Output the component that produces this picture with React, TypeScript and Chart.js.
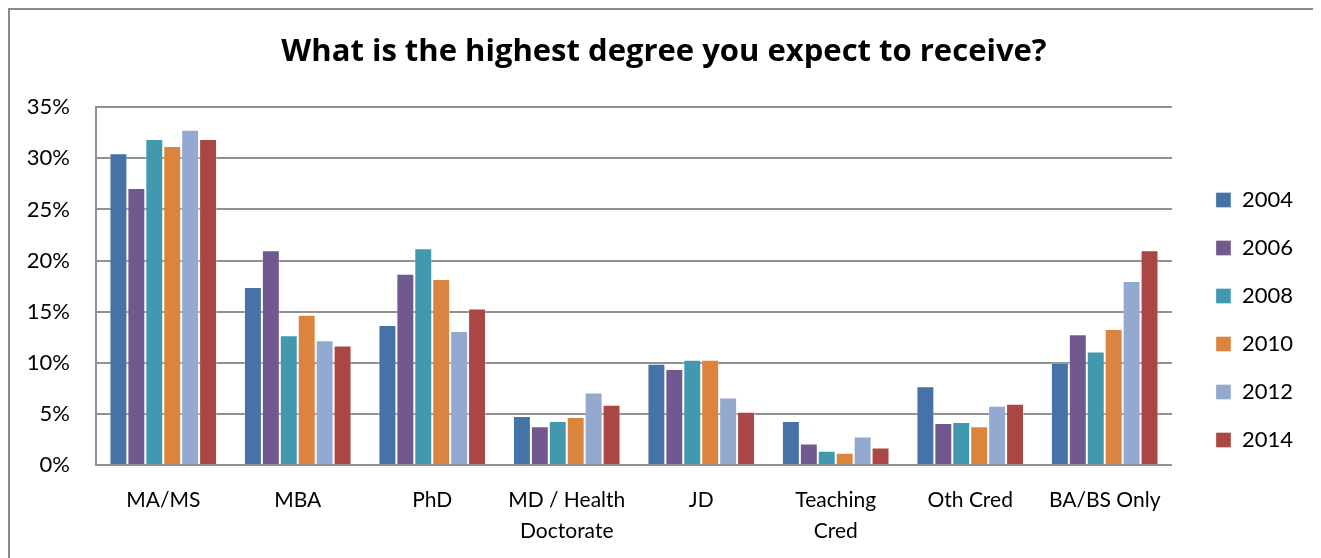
import { useEffect, useRef } from 'react';
import { Chart, registerables } from 'chart.js';

Chart.register(...registerables);

const categories: (string | string[])[] = [
  'MA/MS',
  'MBA',
  'PhD',
  ['MD / Health', 'Doctorate'],
  'JD',
  ['Teaching', 'Cred'],
  'Oth Cred',
  'BA/BS Only',
];

const years = ['2004', '2006', '2008', '2010', '2012', '2014'];

const y2004 = [30.5, 17.4, 13.7, 4.8, 9.9, 4.3, 7.7, 10.0];
const y2006 = [27.1, 21.0, 18.7, 3.8, 9.4, 2.1, 4.1, 12.8];
const y2008 = [31.9, 12.7, 21.2, 4.3, 10.3, 1.4, 4.2, 11.1];
const y2010 = [31.2, 14.7, 18.2, 4.7, 10.3, 1.2, 3.8, 13.3];
const y2012 = [32.8, 12.2, 13.1, 7.1, 6.6, 2.8, 5.8, 18.0];
const y2014 = [31.9, 11.7, 15.3, 5.9, 5.2, 1.7, 6.0, 21.0];

const seriesValues = [y2004, y2006, y2008, y2010, y2012, y2014];
const seriesColors = ['#4572A7', '#71588F', '#4198AF', '#DB843D', '#93A9CF', '#AA4643'];

const yMin = 0;
const yMax = 35;
const yStep = 5;

const title = 'What is the highest degree you expect to receive?';

export default function App() {
  const ref = useRef<HTMLCanvasElement | null>(null);

  useEffect(() => {
    document.documentElement.style.overflow = 'hidden';
    document.body.style.overflow = 'hidden';
    const canvas = ref.current;
    if (!canvas) return;
    Chart.defaults.font.family = 'Lato';
    const gridColor = '#919191';
    const chart = new Chart(canvas, {
      type: 'bar',
      data: {
        labels: categories,
        datasets: years.map((y, i) => ({
          label: y,
          data: seriesValues[i],
          backgroundColor: seriesColors[i],
          borderColor: 'rgba(255,255,255,0.35)',
          borderWidth: 1,
          categoryPercentage: 0.8,
          barPercentage: 1.0,
          yAxisID: 'y',
        })),
      },
      options: {
        responsive: false,
        animation: false,
        layout: { padding: { left: 0, right: 0, top: 0, bottom: 0 } },
        plugins: {
          title: {
            display: true,
            text: title,
            color: '#000',
            font: { family: 'Open Sans', size: 31, weight: 'bold', lineHeight: 1.2 },
            padding: { top: 24, bottom: 36 },
          },
          legend: {
            position: 'right',
            align: 'start',
            title: { display: true, text: '', padding: { top: 143, bottom: 0 }, font: { size: 10, lineHeight: 1 } },
            labels: {
              boxWidth: 15,
              boxHeight: 15,
              padding: 26,
              color: '#000',
              font: { family: 'Lato', size: 22 },
            },
          },
          tooltip: { enabled: false },
        },
        scales: {
          x: {
            grid: { display: false, drawTicks: false },
            border: { display: true, color: gridColor, width: 2 },
            ticks: {
              color: '#000',
              font: { family: 'Lato', size: 21, lineHeight: 1.47 },
              padding: 20,
              maxRotation: 0,
              minRotation: 0,
              autoSkip: false,
            },
            afterFit: (s: any) => { s.height = 93; },
          },
          y: {
            min: yMin,
            max: yMax,
            grid: { color: gridColor, lineWidth: 2, drawTicks: false },
            border: { display: true, color: gridColor, width: 2 },
            ticks: {
              stepSize: yStep,
              color: '#000',
              font: { family: 'Lato', size: 22 },
              padding: 26,
              callback: (v: any) => `${v}%`,
            },
            afterFit: (s: any) => { s.width = 71; },
          },
          yR: {
            type: 'linear',
            position: 'right',
            display: true,
            grid: { display: false, drawTicks: false },
            border: { display: false },
            ticks: { display: false },
            afterFit: (s: any) => { s.width = 18; },
          },
        },
      },
    } as any);
    return () => chart.destroy();
  }, []);

  return (
    <div
      style={{
        position: 'relative',
        width: 1312,
        height: 550,
        boxSizing: 'border-box',
        borderTop: '2px solid #8a8a8a',
        borderLeft: '2px solid #8a8a8a',
        borderRight: '2px solid #8a8a8a',
        background: '#fff',
      }}
    >
      <canvas
        ref={ref}
        width={1278}
        height={548}
        style={{ display: 'block', position: 'absolute', left: 15, top: 0 }}
      />
    </div>
  );
}
